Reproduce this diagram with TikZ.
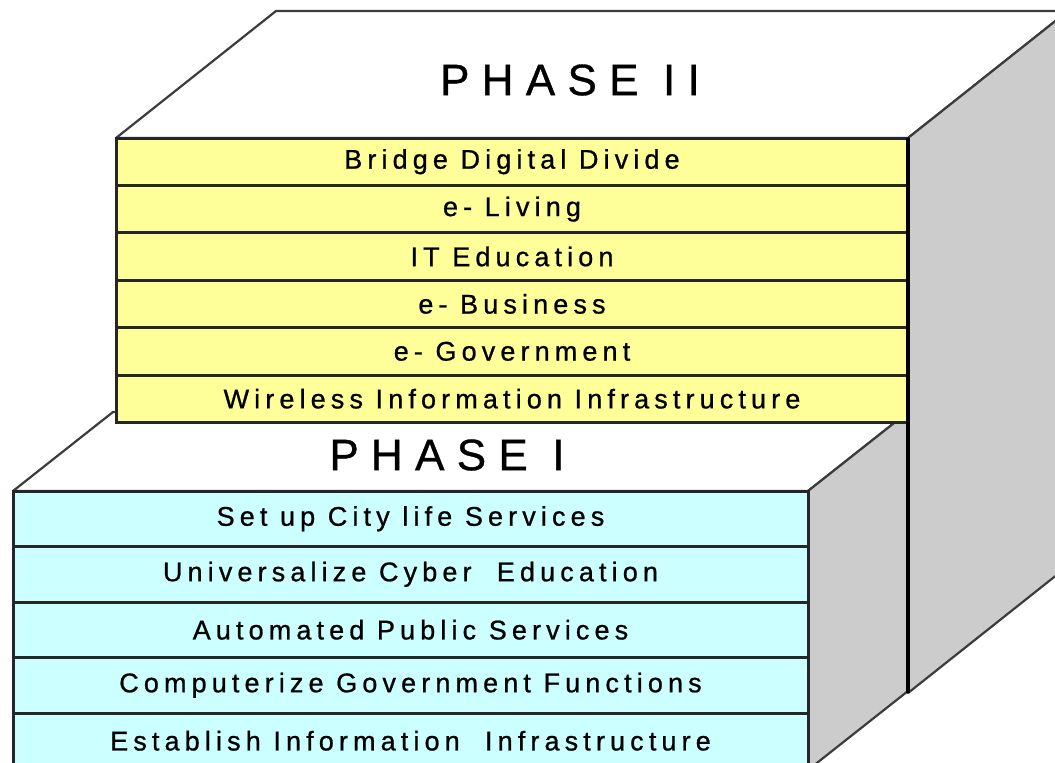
\documentclass[tikz,border=0pt]{standalone}
\usepackage{fontspec}
\setmainfont{Liberation Sans}
\newfontfamily\rowfont[LetterSpace=19, FakeBold=0.8]{Liberation Sans}
\newfontfamily\phasefont[LetterSpace=28, FakeBold=0.8]{Liberation Sans}
\usetikzlibrary{positioning,calc}
\definecolor{yellowface}{HTML}{FFFF99}
\definecolor{cyanface}{HTML}{CCFFFF}
\definecolor{sideface}{HTML}{CCCCCC}
\definecolor{edgegray}{HTML}{3C3C3C}
\tikzstyle{row} = [rectangle, draw=black!85, line width=1.5pt, outer sep=0pt, inner sep=0pt, text centered, font=\rowfont\fontsize{13.5}{15}\selectfont]
\tikzstyle{yrow} = [row, fill=yellowface, minimum width=396pt, minimum height=23.7pt]
\tikzstyle{crow} = [row, fill=cyanface, minimum width=397.5pt, minimum height=27.75pt]
\tikzstyle{face} = [draw=edgegray, line width=1.1pt, line join=round]
\tikzstyle{phase} = [font=\phasefont\fontsize{22}{24}\selectfont]

\begin{document}
\begin{tikzpicture}[x=0.5pt, y=-0.5pt]
\useasboundingbox (0,0) rectangle (1055,762);
\clip (0,0) rectangle (1055,762);

% phase II box
\draw [face, fill=white]		(116,138) -- (276,11) -- (1068,11) -- (908,138) -- cycle;
\draw [face, fill=sideface]	(908,138) -- (1068,11) -- (1068,566) -- (908,693) -- cycle;

% phase I box
\draw [face, fill=white]		(13,491) -- (113,412) -- (908,412) -- (808,491) -- cycle;
\draw [face, fill=sideface]	(808,491) -- (908,412) -- (908,691) -- (808,770) -- cycle;

\node(PhaseTwo)		[phase] at (570,80)		{PHASE II};
\node(PhaseOne)		[phase] at (447,455)	{PHASE I};

% phase II rows
\node(Bridge)		[yrow] at (512,161.7)
								{Bridge Digital Divide};
\node(Living)		[yrow, below=0pt of Bridge.south]
								{e- Living};
\node(ITEdu)		[yrow, below=0pt of Living.south]
								{IT Education};
\node(Business)		[yrow, below=0pt of ITEdu.south]
								{e- Business};
\node(Government)	[yrow, below=0pt of Business.south]
								{e- Government};
\node(Wireless)		[yrow, below=0pt of Government.south]
								{Wireless Information Infrastructure};

% phase I rows
\node(CityLife)		[crow] at (410.5,518.75)
								{Set up City life Services};
\node(CyberEdu)		[crow, below=0pt of CityLife.south]
								{Universalize Cyber~ Education};
\node(PublicServ)	[crow, below=0pt of CyberEdu.south]
								{Automated Public Services};
\node(GovFunc)		[crow, below=0pt of PublicServ.south]
								{Computerize Government Functions};
\node(InfoInfra)	[crow, below=0pt of GovFunc.south]
								{Establish Information~ Infrastructure};

\draw [line width=2pt]	(Bridge.north east) -- (908,693);

\end{tikzpicture}
\end{document}
